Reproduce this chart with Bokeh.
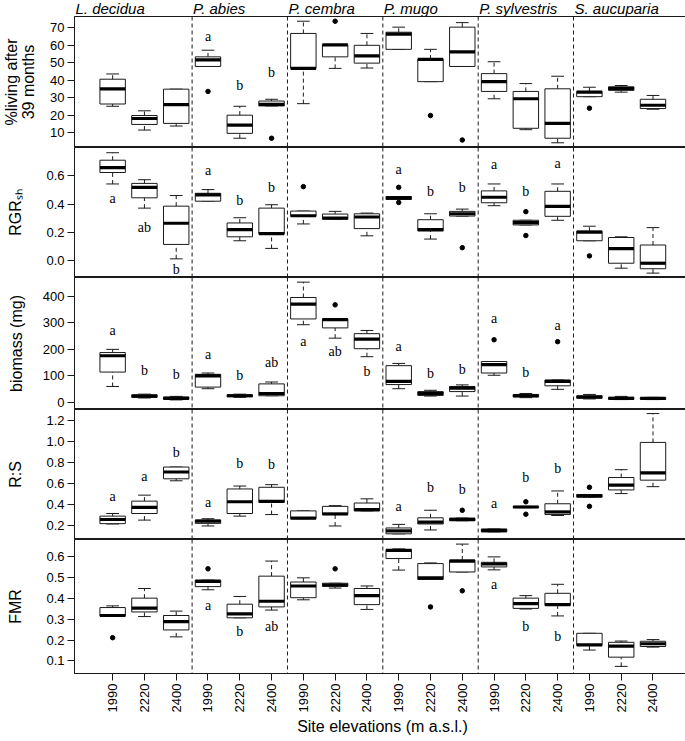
import math
from bokeh.plotting import figure
from bokeh.models import Range1d, Span, ColumnDataSource, FixedTicker, NumeralTickFormatter
from bokeh.layouts import column
from bokeh.embed import file_html
from bokeh.resources import INLINE
from bokeh.core.properties import value

species = ["L. decidua", "P. abies", "P. cembra", "P. mugo", "P. sylvestris", "S. aucuparia"]
elevations = ["1990", "2220", "2400"]
x_label = "Site elevations (m a.s.l.)"

# ---- %living after 39 months ----
living_lo = [25.1, 11.5, 13.8, 47.9, 6.8, 25.3, 26.6, 46.8, 47.0, 57.7, 39.2, 47.9, 29.4, 11.7, 4.2, 30.6, 33.2, 23.4]
living_q1 = [26.4, 14.7, 15.3, 47.9, 9.6, 25.3, 46.8, 53.4, 49.8, 57.7, 39.2, 47.9, 33.6, 12.5, 6.8, 30.6, 34.2, 23.8]
living_med = [35.1, 18.1, 26.0, 51.7, 14.3, 26.2, 46.8, 60.2, 53.9, 66.4, 51.9, 56.2, 39.2, 29.4, 15.3, 33.2, 35.3, 25.7]
living_q3 = [40.6, 19.8, 34.9, 53.4, 20.0, 28.1, 66.8, 60.4, 60.0, 67.5, 52.1, 70.4, 43.8, 33.6, 35.1, 33.6, 36.2, 29.1]
living_hi = [43.6, 22.5, 34.9, 57.2, 25.1, 29.1, 73.8, 60.4, 66.8, 70.4, 57.7, 73.0, 50.6, 38.1, 42.3, 36.0, 37.0, 31.3]
living_out_grp = [4, 6, 8, 11, 12, 16]
living_out_val = [33.6, 6.8, 73.8, 19.8, 5.8, 24.0]
living_let_grp = [4, 5, 6]
living_let_txt = ["a", "b", "b"]
living_let_y = [65.3, 37.0, 44.5]
living_ticks = [10, 20, 30, 40, 50, 60, 70]

# ---- RGR_sh ----
rgr_lo = [0.542, 0.371, 0.012, 0.420, 0.140, 0.086, 0.259, 0.292, 0.175, 0.432, 0.152, 0.315, 0.388, 0.252, 0.285, 0.140, -0.054, -0.089]
rgr_q1 = [0.623, 0.444, 0.114, 0.420, 0.168, 0.187, 0.313, 0.292, 0.226, 0.432, 0.210, 0.315, 0.409, 0.252, 0.313, 0.140, -0.019, -0.058]
rgr_med = [0.658, 0.518, 0.264, 0.465, 0.219, 0.191, 0.317, 0.301, 0.308, 0.444, 0.219, 0.331, 0.448, 0.268, 0.383, 0.201, 0.084, -0.019]
rgr_q3 = [0.710, 0.546, 0.385, 0.476, 0.266, 0.371, 0.350, 0.329, 0.331, 0.453, 0.289, 0.348, 0.493, 0.285, 0.490, 0.208, 0.163, 0.110]
rgr_hi = [0.763, 0.572, 0.460, 0.502, 0.303, 0.395, 0.350, 0.348, 0.336, 0.453, 0.331, 0.364, 0.542, 0.285, 0.542, 0.243, 0.168, 0.233]
rgr_out_grp = [7, 10, 10, 12, 14, 14, 16]
rgr_out_val = [0.523, 0.518, 0.411, 0.091, 0.346, 0.177, 0.033]
rgr_let_grp = [1, 2, 3, 4, 5, 6, 10, 11, 12, 13, 14, 15]
rgr_let_txt = ["a", "ab", "b", "a", "b", "b", "a", "b", "b", "a", "b", "a"]
rgr_let_y = [0.441, 0.233, -0.062, 0.635, 0.425, 0.518, 0.647, 0.488, 0.518, 0.677, 0.488, 0.686]
rgr_ticks = [0.0, 0.2, 0.4, 0.6]

# ---- biomass (mg) ----
bio_lo = [60.1, 16.5, 9.3, 51.6, 19.0, 25.0, 293.5, 242.7, 172.6, 51.6, 23.8, 23.8, 102.4, 17.8, 49.2, 12.9, 10.5, 10.5]
bio_q1 = [114.5, 19.0, 11.7, 57.7, 21.4, 25.0, 315.3, 281.5, 202.8, 67.3, 26.2, 40.7, 110.9, 20.2, 62.5, 15.3, 11.7, 11.7]
bio_med = [176.2, 23.8, 15.3, 100.0, 25.0, 33.5, 371.0, 312.9, 239.1, 79.4, 33.5, 54.0, 142.3, 25.0, 79.4, 20.2, 15.3, 15.3]
bio_q3 = [188.3, 28.6, 20.2, 106.0, 28.6, 69.8, 396.4, 315.3, 259.7, 138.7, 40.7, 60.1, 154.4, 29.9, 84.3, 25.0, 19.0, 17.8]
bio_hi = [200.4, 31.0, 22.6, 110.9, 31.0, 77.0, 454.4, 315.3, 271.8, 147.2, 45.6, 66.1, 154.4, 33.5, 84.3, 29.9, 22.6, 19.0]
bio_out_grp = [8, 13, 15]
bio_out_val = [368.6, 236.7, 229.4]
bio_let_grp = [1, 2, 3, 4, 5, 6, 7, 8, 9, 10, 11, 12, 13, 14, 15]
bio_let_txt = ["a", "b", "b", "a", "b", "ab", "a", "ab", "b", "a", "b", "b", "a", "b", "a"]
bio_let_y = [273, 120.6, 103.6, 181, 100, 152, 229.4, 193, 118, 211, 109.7, 124.2, 317.7, 112, 290]
bio_ticks = [0, 100, 200, 300, 400]

# ---- R:S ----
rs_lo = [0.213, 0.250, 0.625, 0.194, 0.288, 0.303, 0.263, 0.194, 0.338, 0.119, 0.156, 0.244, 0.138, 0.369, 0.294, 0.469, 0.503, 0.569]
rs_q1 = [0.216, 0.313, 0.644, 0.219, 0.313, 0.419, 0.263, 0.303, 0.338, 0.119, 0.213, 0.244, 0.138, 0.369, 0.303, 0.469, 0.538, 0.631]
rs_med = [0.256, 0.372, 0.709, 0.241, 0.425, 0.428, 0.269, 0.309, 0.350, 0.147, 0.231, 0.256, 0.150, 0.375, 0.328, 0.481, 0.584, 0.700]
rs_q3 = [0.288, 0.431, 0.756, 0.250, 0.547, 0.563, 0.338, 0.381, 0.413, 0.175, 0.272, 0.269, 0.166, 0.381, 0.406, 0.494, 0.656, 0.991]
rs_hi = [0.313, 0.488, 0.756, 0.263, 0.575, 0.588, 0.338, 0.388, 0.453, 0.209, 0.344, 0.269, 0.166, 0.381, 0.528, 0.494, 0.731, 1.266]
rs_out_grp = [12, 14, 14, 16, 16]
rs_out_val = [0.344, 0.425, 0.306, 0.563, 0.381]
rs_let_grp = [1, 2, 3, 4, 5, 6, 10, 11, 12, 13, 14, 15]
rs_let_txt = ["a", "a", "b", "a", "b", "b", "a", "b", "b", "a", "b", "b"]
rs_let_y = [0.475, 0.663, 0.897, 0.419, 0.7875, 0.781, 0.381, 0.559, 0.544, 0.406, 0.653, 0.747]
rs_ticks = [0.2, 0.4, 0.6, 0.8, 1.0, 1.2]

# ---- FMR ----
fmr_lo = [0.314, 0.312, 0.215, 0.440, 0.306, 0.343, 0.392, 0.448, 0.346, 0.534, 0.489, 0.525, 0.535, 0.348, 0.315, 0.152, 0.074, 0.166]
fmr_q1 = [0.314, 0.334, 0.248, 0.455, 0.306, 0.358, 0.402, 0.457, 0.369, 0.589, 0.489, 0.525, 0.549, 0.351, 0.365, 0.174, 0.118, 0.169]
fmr_med = [0.317, 0.352, 0.288, 0.480, 0.325, 0.385, 0.458, 0.462, 0.412, 0.628, 0.497, 0.577, 0.563, 0.374, 0.369, 0.177, 0.171, 0.182]
fmr_q3 = [0.355, 0.400, 0.317, 0.486, 0.371, 0.505, 0.477, 0.471, 0.446, 0.632, 0.565, 0.582, 0.571, 0.400, 0.423, 0.232, 0.189, 0.194]
fmr_hi = [0.363, 0.446, 0.338, 0.486, 0.408, 0.577, 0.497, 0.471, 0.458, 0.635, 0.568, 0.658, 0.597, 0.412, 0.466, 0.232, 0.195, 0.202]
fmr_out_grp = [1, 4, 8, 11, 12]
fmr_out_val = [0.211, 0.540, 0.540, 0.358, 0.435]
fmr_let_grp = [4, 5, 6, 13, 14, 15]
fmr_let_txt = ["a", "b", "ab", "a", "b", "b"]
fmr_let_y = [0.366, 0.24, 0.263, 0.463, 0.266, 0.217]
fmr_ticks = [0.1, 0.2, 0.3, 0.4, 0.5, 0.6]

# ---------------- layout ----------------
positions = list(range(1, len(species) * len(elevations) + 1))
separators = [len(elevations) * k + 0.5 for k in range(1, len(species))]
X0, X1 = -0.2, 19.18
FW = 616
LEFT = 65
RIGHT = 3
xr = Range1d(X0, X1)
INK = "#1a1a1a"
SANS = "Liberation Sans"
SERIF = "Liberation Serif"
BOXW, CAPW = 0.8, 0.4


def base_fig(fh, yr, bottom=False):
    p = figure(x_range=xr, y_range=Range1d(*yr), frame_width=FW, frame_height=fh,
               output_backend="svg", toolbar_location=None,
               min_border_left=LEFT, min_border_right=RIGHT, min_border_top=0, min_border_bottom=0,
               x_axis_location="below" if bottom else None)
    p.xgrid.visible = False
    p.ygrid.visible = False
    p.background_fill_color = "white"
    p.border_fill_color = "white"
    return p


def panel(lo, q1, med, q3, hi, og, ov, lg, lt, ly, ticks, yr, fmt, fh, bottom,
          title, title_standoff):
    p = base_fig(fh, yr, bottom)
    p.outline_line_color = INK
    p.outline_line_width = 1

    ya = p.yaxis[0]
    ya.ticker = FixedTicker(ticks=ticks)
    if fmt:
        ya.formatter = NumeralTickFormatter(format=fmt)
    ya.major_tick_out = 7
    ya.major_tick_in = 0
    ya.minor_tick_out = 0
    ya.minor_tick_in = 0
    ya.axis_line_color = INK
    ya.major_tick_line_color = INK
    ya.major_label_standoff = 3
    ya.major_label_text_font = SANS
    ya.major_label_text_font_size = "13px"
    ya.major_label_text_color = "black"
    ya.axis_label = title
    ya.axis_label_text_font = SANS
    ya.axis_label_text_font_style = "normal"
    ya.axis_label_text_font_size = "16px"
    ya.axis_label_text_color = "black"
    ya.axis_label_text_line_height = 1.0
    ya.axis_label_standoff = title_standoff

    for s in separators:
        p.add_layout(Span(location=s, dimension="height", line_color=INK,
                          line_width=1, line_dash="4 3"))

    src = ColumnDataSource(dict(
        x=positions, lo=lo, q1=q1, med=med, q3=q3, hi=hi,
        bl=[x - BOXW / 2 for x in positions], br=[x + BOXW / 2 for x in positions],
        cl=[x - CAPW / 2 for x in positions], cr=[x + CAPW / 2 for x in positions]))
    p.segment(x0="x", y0="q3", x1="x", y1="hi", source=src, line_color=INK, line_width=1, line_dash="4 3")
    p.segment(x0="x", y0="lo", x1="x", y1="q1", source=src, line_color=INK, line_width=1, line_dash="4 3")
    p.segment(x0="cl", y0="hi", x1="cr", y1="hi", source=src, line_color=INK, line_width=1)
    p.segment(x0="cl", y0="lo", x1="cr", y1="lo", source=src, line_color=INK, line_width=1)
    p.vbar(x="x", width=BOXW, bottom="q1", top="q3", source=src,
           fill_color="white", line_color=INK, line_width=1)
    p.segment(x0="bl", y0="med", x1="br", y1="med", source=src, line_color="black", line_width=3.2)

    p.scatter(x=og, y=ov, size=4.5, color="black", marker="circle")

    p.text(x=lg, y=ly, text=lt, text_font=value(SERIF), text_font_size="14px",
           text_align="center", text_baseline="middle", text_color="black")

    if bottom:
        xa = p.xaxis[0]
        xa.ticker = FixedTicker(ticks=positions)
        xa.major_label_overrides = {x: elevations[(x - 1) % len(elevations)] for x in positions}
        xa.major_label_orientation = math.pi / 2
        xa.major_tick_out = 7
        xa.major_tick_in = 0
        xa.minor_tick_out = 0
        xa.minor_tick_in = 0
        xa.axis_line_color = INK
        xa.major_tick_line_color = INK
        xa.major_label_standoff = 3
        xa.major_label_text_font = SANS
        xa.major_label_text_font_size = "13px"
        xa.major_label_text_color = "black"
        xa.axis_label = x_label
        xa.axis_label_text_font = SANS
        xa.axis_label_text_font_style = "normal"
        xa.axis_label_text_font_size = "16px"
        xa.axis_label_standoff = 3
        xa.axis_label_text_color = "black"
    return p


# species names strip above the top panel
STRIP_H = 16
strip = base_fig(STRIP_H, (0, STRIP_H))
strip.outline_line_color = None
strip.yaxis.visible = False
group_starts = [X0] + separators
strip.text(x=group_starts, y=[STRIP_H / 2 + 0.5] * len(species), text=species, x_offset=1,
           text_font=value(SANS), text_font_style="italic", text_font_size="15px",
           text_align="left", text_baseline="middle", text_color="black")

p1 = panel(living_lo, living_q1, living_med, living_q3, living_hi,
           living_out_grp, living_out_val, living_let_grp, living_let_txt, living_let_y,
           living_ticks, (1.5, 76.5), None, 131, False,
           "%living after\n39 months", 10)
p2 = panel(rgr_lo, rgr_q1, rgr_med, rgr_q3, rgr_hi,
           rgr_out_grp, rgr_out_val, rgr_let_grp, rgr_let_txt, rgr_let_y,
           rgr_ticks, (-0.12, 0.80), "0.0", 130, False,
           "RGR\u209b\u2095", 19)
p3 = panel(bio_lo, bio_q1, bio_med, bio_q3, bio_hi,
           bio_out_grp, bio_out_val, bio_let_grp, bio_let_txt, bio_let_y,
           bio_ticks, (-27, 472), None, 132, False,
           "biomass (mg)", 15)
p4 = panel(rs_lo, rs_q1, rs_med, rs_q3, rs_hi,
           rs_out_grp, rs_out_val, rs_let_grp, rs_let_txt, rs_let_y,
           rs_ticks, (0.065, 1.305), "0.0", 130, False,
           "R:S", 19)
p5 = panel(fmr_lo, fmr_q1, fmr_med, fmr_q3, fmr_hi,
           fmr_out_grp, fmr_out_val, fmr_let_grp, fmr_let_txt, fmr_let_y,
           fmr_ticks, (0.04, 0.68), "0.0", 134, True,
           "FMR", 19)

layout = column(strip, p1, p2, p3, p4, p5, spacing=0)
open("out.html", "w").write(file_html(layout, INLINE))
